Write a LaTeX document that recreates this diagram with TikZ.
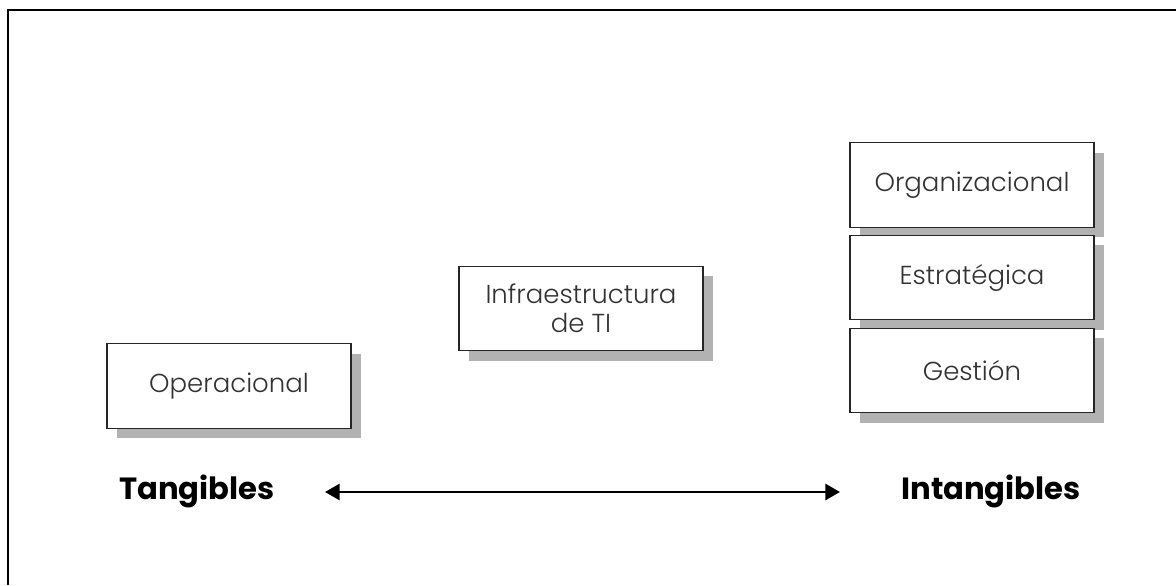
\documentclass[tikz,border=0pt]{standalone}
\usepackage{fontspec}
\usetikzlibrary{arrows.meta}
\newfontfamily\labelfont{Poppins Light}
\newfontfamily\endfont{Poppins Bold}
\begin{document}
\begin{tikzpicture}[x=0.75pt,y=-0.75pt,
  card/.style={draw=black!85,line width=0.8pt,fill=white,minimum width=183pt,minimum height=63.5pt,
    inner sep=0pt,align=center,font=\labelfont\fontsize{19.5}{22}\selectfont,
    text=black!80},
  shade/.style={fill=black!30,draw=none},
  pole/.style={font=\endfont\fontsize{23}{26}\selectfont},
  span/.style={line width=2.2pt,{Triangle[length=11pt,width=12pt]}-{Triangle[length=11pt,width=12pt]}}]
\useasboundingbox (0,0) rectangle (1176,585);
% page outline (left and top edges)
\draw[line width=1.2pt] (8,585) -- (8,10) -- (1176,10);

% shadows
\fill[shade] (117,354) rectangle (361,438);
\fill[shade] (469,276) rectangle (713,361);
\fill[shade] (860,153) rectangle (1104,237);
\fill[shade] (860,245) rectangle (1104,330);
\fill[shade] (860,338) rectangle (1104,423);

% boxes
\node[card] (op) at (229,386) {Operacional};
\node[card] (it) at (581,308.5) {Infraestructura\\de TI};
\node[card] (org) at (972,185) {Organizacional};
\node[card] (est) at (972,277.5) {Estratégica};
\node[card] (ges) at (972,370.5) {Gestión};

% axis labels and arrow
\node[pole] (tan) at (197,491) {Tangibles};
\node[pole] (int) at (991,491) {Intangibles};
\coordinate (la) at (325,492);
\coordinate (ra) at (840,492);
\draw[span] (la) -- (ra);
\end{tikzpicture}
\end{document}
